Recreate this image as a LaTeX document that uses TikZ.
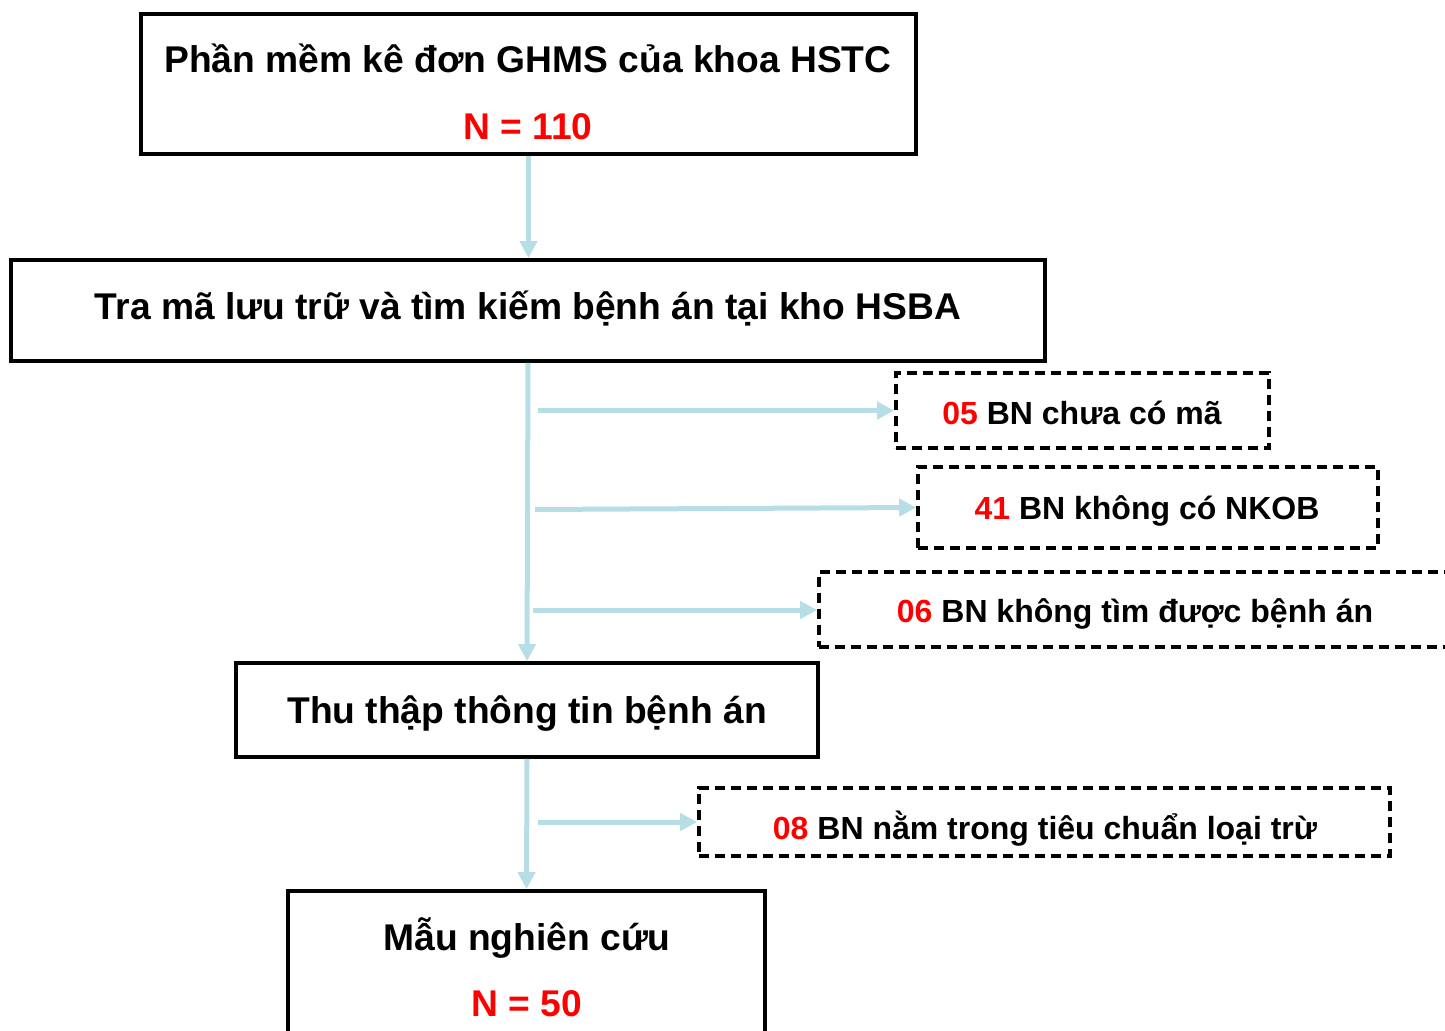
\documentclass[tikz,border=0pt]{standalone}
\usepackage{fontspec}
\setmainfont{Liberation Sans}
\usetikzlibrary{arrows.meta}
\definecolor{flowblue}{RGB}{183,222,230}
\begin{document}
\begin{tikzpicture}[x=0.5pt,y=-0.5pt,
  box/.style={draw=black,line width=1.9pt,inner sep=0pt},
  drop/.style={draw=black,line width=1.8pt,dash pattern=on 5.2pt off 2.8pt,inner sep=0pt},
  big/.style={font=\fontsize{18.6}{22}\selectfont\bfseries,anchor=base,inner sep=0pt},
  small/.style={font=\fontsize{16}{19}\selectfont\bfseries,anchor=base,inner sep=0pt},
  flow/.style={draw=flowblue,line width=2.5pt,-{Triangle[width=8.5pt,length=8.5pt]}}
]
\clip (0,0) rectangle (1445,1031);

% main flow boxes
\node[box,minimum width=387.5pt,minimum height=70pt]  (src) at (528.5,84) {};
\node[box,minimum width=517pt,minimum height=50.5pt]  (rec) at (528,310.5) {};
\node[box,minimum width=291pt,minimum height=47pt]    (col) at (527,710) {};
\node[box,minimum width=238.5pt,minimum height=73pt]  (smp) at (526.5,964) {};

% exclusion boxes
\node[drop,minimum width=186.5pt,minimum height=37.5pt] (x05) at (1082.5,410.5) {};
\node[drop,minimum width=230pt,minimum height=40.5pt]   (x41) at (1148,507.5) {};
\node[drop,minimum width=316pt,minimum height=37.5pt]   (x06) at (1135,609.5) {};
\node[drop,minimum width=345.5pt,minimum height=34pt]   (x08) at (1044.5,822) {};

% labels
\node[big] (srct) at (528,72.7) {Phần mềm kê đơn GHMS của khoa HSTC};
\node[big,text=red] (srcn) at (528,140) {N = 110};
\node[big] (rect) at (528,319.3) {Tra mã lưu trữ và tìm kiếm bệnh án tại kho HSBA};
\node[big] (colt) at (527,723.3) {Thu thập thông tin bệnh án};
\node[big] (smpt) at (527,950) {Mẫu nghiên cứu};
\node[big,text=red] (smpn) at (527,1016.7) {N = 50};

\node[small] (t05) at (1082,424.7) {\textcolor{red}{05} BN chưa có mã};
\node[small] (t41) at (1147,519.3) {\textcolor{red}{41} BN không có NKOB};
\node[small] (t06) at (1135,622) {\textcolor{red}{06} BN không tìm được bệnh án};
\node[small] (t08) at (1045,839.7) {\textcolor{red}{08} BN nằm trong tiêu chuẩn loại trừ};

% branch start points on the trunk
\coordinate (s05) at (538,410.5);
\coordinate (s41) at (535,509.5);
\coordinate (s06) at (533,610);
\coordinate (s08) at (538,822);

% connectors
\draw[flow] (src.south) -- (src.south |- rec.north);
\draw[flow] (rec.south) -- (col.north);
\draw[flow] (col.south) -- (smp.north);
\draw[flow] (s05) -- (s05 -| x05.west);
\draw[flow] (s41) -- (x41.west);
\draw[flow] (s06) -- (s06 -| x06.west);
\draw[flow] (s08) -- (s08 -| x08.west);
\end{tikzpicture}
\end{document}
